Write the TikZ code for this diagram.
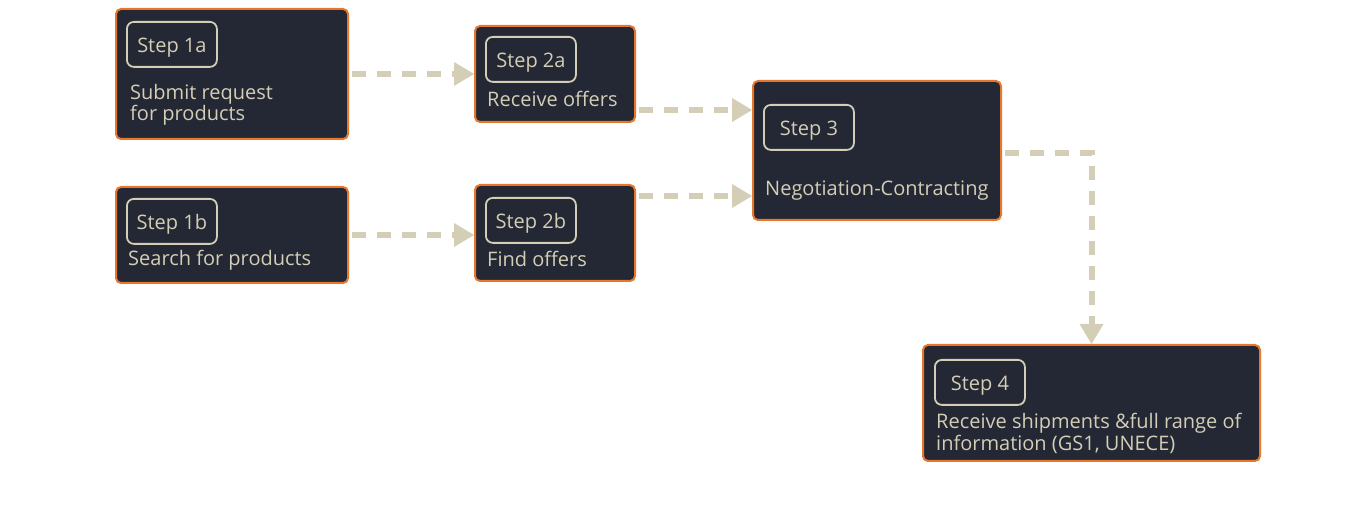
\documentclass[tikz,border=0pt]{standalone}
\usepackage{fontspec}
\setmainfont{Open Sans}
\usetikzlibrary{positioning, arrows.meta}
\definecolor{ink}{HTML}{232834}
\definecolor{rust}{HTML}{E8772E}
\definecolor{sand}{HTML}{D3CEB5}
\tikzset{
  stepbox/.style={draw=rust, fill=ink, rounded corners=5pt, line width=2pt, inner sep=0pt},
  tag/.style={draw=sand, rounded corners=7pt, line width=1.8pt, text=sand, minimum width=90pt,
              minimum height=45pt, inner sep=0pt, text height=17pt, text depth=0pt,
              anchor=north west, font=\fontsize{20}{21}\selectfont},
  desc/.style={text=sand, align=left, inner sep=0pt, anchor=base west, font=\fontsize{20}{21}\selectfont},
  flow/.style={draw=sand, line width=6pt, dash pattern=on 14pt off 11pt, shorten <=3pt,
               -{Triangle[length=20pt, width=24pt, line width=0pt]}},
}

\begin{document}
\begin{tikzpicture}[x=1pt, y=-1pt]
        \useasboundingbox (0,0) rectangle (1366,510);
        % boxes
        \node[stepbox, minimum width=232pt, minimum height=130pt] (s1a) at (232,74) {};
        \node[stepbox, minimum width=160pt, minimum height=96pt] (s2a) at (555,74) {};
        \node[stepbox, minimum width=248pt, minimum height=139pt] (s3) at (877,150.5) {};
        \node[stepbox, minimum width=232pt, minimum height=96pt] (s1b) at (232,235) {};
        \node[stepbox, minimum width=160pt, minimum height=96pt] (s2b) at (555,233) {};
        \node[stepbox, minimum width=337pt, minimum height=116pt] (s4) at (1091.5,403) {};
        % step tags
        \node[tag, below right=13pt and 11pt of s1a.north west] (t1a) {Step 1a};
        \node[tag, below right=11pt and 11pt of s2a.north west] (t2a) {Step 2a};
        \node[tag, below right=24pt and 11pt of s3.north west] (t3) {Step 3};
        \node[tag, below right=12pt and 11pt of s1b.north west] (t1b) {Step 1b};
        \node[tag, below right=13pt and 11pt of s2b.north west] (t2b) {Step 2b};
        \node[tag, below right=15pt and 12pt of s4.north west] (t4) {Step 4};
        % texts (base = last line)
        \node[desc] (d1a) at (130,121) {Submit request\\ for products};
        \node[desc] (d2a) at (487,107) {Receive offers};
        \node[desc] (d3) at (765,196) {Negotiation-Contracting};
        \node[desc] (d1b) at (128,266) {Search for products};
        \node[desc] (d2b) at (487,267) {Find offers};
        \node[desc] (d4) at (936,450) {Receive shipments \&full range of\\information (GS1, UNECE)};
        % flows
        \draw[flow] (s1a.east) -- (s2a.west);
        \draw[flow] (s1b.east) -- (s1b.east -| s2b.west);
        \draw[flow] ([yshift=-36pt]s2a.east) -- ([yshift=40.5pt]s3.west);
        \draw[flow] ([yshift=37pt]s2b.east) -- ([yshift=-45.5pt]s3.west);
        \draw[flow] ([yshift=-2.5pt]s3.east) -| (s4.north);
      \end{tikzpicture}
\end{document}
